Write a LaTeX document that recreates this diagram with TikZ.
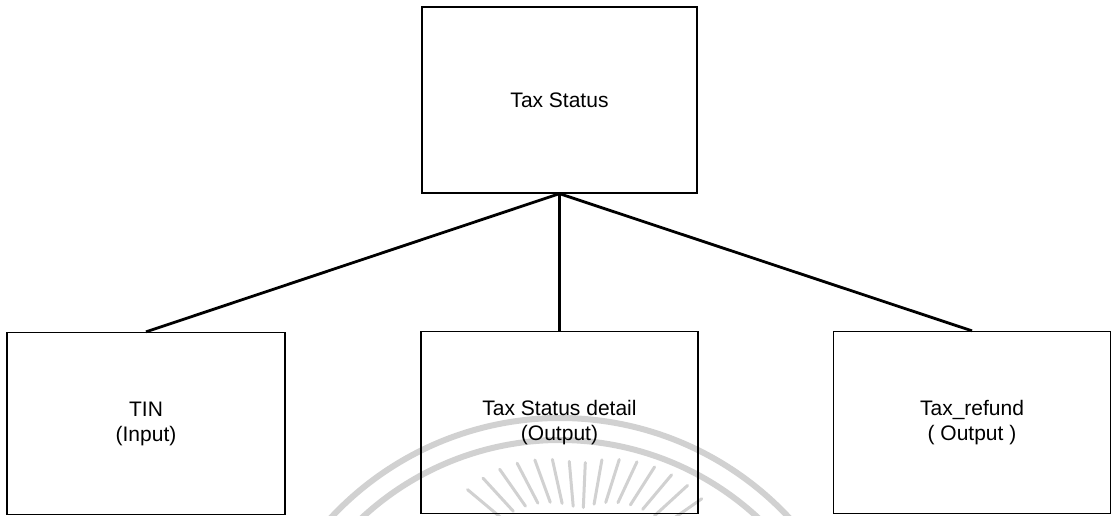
\documentclass[tikz,border=0pt]{standalone}
\usepackage{fontspec}
\setmainfont{Liberation Sans}
\begin{document}
\begin{tikzpicture}[x=1pt,y=-1pt,
  box/.style={draw=black, line width=1.3pt, minimum width=277pt, minimum height=182pt,
    inner sep=0pt, align=center, font=\fontsize{21}{25}\selectfont},
  link/.style={draw=black, line width=2.8pt},
  wm/.style={draw=black!18, line width=6pt}]
\useasboundingbox (0,0) rectangle (1112,516);
% faint watermark
\draw[wm] (560,731) ++(-140:313) arc[start angle=-140, end angle=-40, radius=313];
\draw[wm] (560,731) ++(-136:291) arc[start angle=-136, end angle=-44, radius=291];
\foreach \a in {35,42.5,...,142} {
  \pgfmathsetmacro{\rout}{120+35*abs(cos(\a))}
  \draw[wm, line width=3pt, line cap=round] (580,584) ++(-\a:\rout) -- ++(-\a-180:45);
}
% boxes
\node[box, minimum width=275pt, minimum height=186pt] (top) at (559.5,100) {Tax Status};
\node[box, minimum width=278pt] (tin) at (146,423.5) {TIN\\(Input)};
\node[box] (detail) at (559.5,422.5) {Tax Status detail\\(Output)};
\node[box] (refund) at (972,422.5) {Tax\_refund\\( Output )};
% connectors
\draw[link] (top.south) -- (tin.north);
\draw[link] (top.south) -- (detail.north);
\draw[link] (top.south) -- (refund.north);
\end{tikzpicture}
\end{document}
